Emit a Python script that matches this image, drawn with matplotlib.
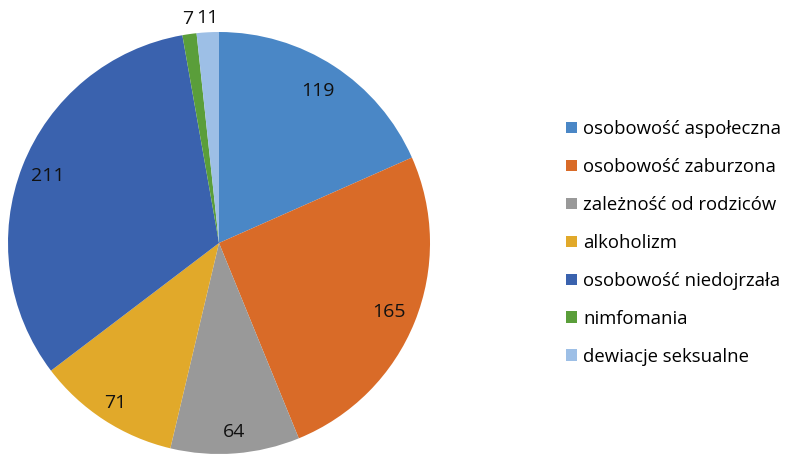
import matplotlib
matplotlib.use("Agg")
import matplotlib.pyplot as plt
import numpy as np

categories = ["osobowość aspołeczna", "osobowość zaburzona", "zależność od rodziców",
              "alkoholizm", "osobowość niedojrzała", "nimfomania", "dewiacje seksualne"]
values = [119, 165, 64, 71, 211, 7, 11]
colors = ["#4A87C6", "#D96B28", "#999999", "#E1A92A", "#3A62AE", "#5A9E3A", "#9DBFE6"]
label_r = [0.86, 0.87, 0.90, 0.905, 0.87, 1.07, 1.07]

plt.rcParams['font.family'] = ['Open Sans', 'DejaVu Sans']

fig = plt.figure(figsize=(7.85, 4.55), dpi=100)
ax = fig.add_axes([8/785, 1/455, 422/785, 422/455])
wedges, _ = ax.pie(values, colors=colors, startangle=90, counterclock=False,
                   wedgeprops=dict(linewidth=0))
ax.set_xlim(-1, 1)
ax.set_ylim(-1, 1)
ax.set_aspect('equal')

for w, v, r in zip(wedges, values, label_r):
    ang = np.deg2rad((w.theta1 + w.theta2) / 2)
    x, y = r * np.cos(ang), r * np.sin(ang)
    ax.text(x, y, str(v), ha='center', va='center', fontsize=14, color='#111111',
            clip_on=False)

fig.legend(wedges, categories, loc='center left', bbox_to_anchor=(559/785, 0.466),
           frameon=False, fontsize=13.3, handlelength=0.6, handleheight=0.6,
           handletextpad=0.3, labelspacing=1.08, borderaxespad=0)

fig.savefig("out.png", dpi=100)
